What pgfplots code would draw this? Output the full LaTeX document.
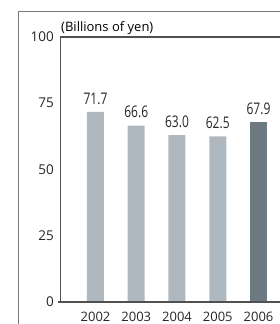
\documentclass[border=0pt]{standalone}
\usepackage{fontspec}
\setmainfont{Open Sans}
\newfontfamily\valfont[FakeStretch=0.75]{Open Sans}
\usepackage{pgfplots}
\pgfplotsset{compat=1.18}
\definecolor{barlight}{HTML}{B0B8BF}
\definecolor{bardark}{HTML}{6E7A82}
\definecolor{axisgray}{HTML}{505050}
\definecolor{framegray}{HTML}{7A7A7A}
\begin{document}
\begin{tikzpicture}[x=1pt,y=1pt]
\clip (0,0) rectangle (280,324);
\draw[framegray, line width=0.9pt] (18,-2) -- (18,313) -- (285,313);
\node[anchor=base west, inner sep=0pt, font=\fontsize{13}{15}\selectfont] at (61,292) {(Billions of yen)};
\begin{axis}[
  at={(60pt,22pt)}, anchor=south west,
  width=222.95pt, height=265pt, scale only axis,
  xmin=-0.871, xmax=4.6, ymin=0, ymax=100,
  axis x line*=bottom,
  x axis line style={draw=none},
  axis y line*=left,
  y axis line style={-, axisgray, line width=0.9pt},
  ytick={0,25,50,75,100},
  major tick length=0pt,
  xtick={0,1,2,3,4},
  xticklabels={2002,2003,2004,2005,2006},
  /pgf/number format/assume math mode=true,
  ticklabel style={font=\fontsize{13.5}{15}\selectfont, text=black!85},
  yticklabel style={inner sep=0pt, xshift=-6pt},
  xticklabel style={inner sep=0pt, anchor=north, yshift=-9.5pt, font=\fontsize{13}{14}\selectfont},
  clip=false,
  nodes near coords,
  every node near coord/.append style={font=\fontsize{16}{18}\valfont, text=black!85, anchor=south, inner sep=0pt, yshift=7.5pt},
  nodes near coords={\pgfmathprintnumber[fixed,fixed zerofill,precision=1]{\pgfplotspointmeta}},
]
\addplot[ybar, bar width=17pt, bar shift=0pt, fill=barlight, draw=none]
  coordinates {(0,71.7) (1,66.6) (2,63.0) (3,62.5)};
\addplot[ybar, bar width=17pt, bar shift=0pt, fill=bardark, draw=none]
  coordinates {(4,67.9)};
\draw[axisgray, line width=1.4pt] (rel axis cs:0,1) -- (rel axis cs:1,1);
\draw[axisgray, line width=1.4pt] ([xshift=-2pt]rel axis cs:0,0) -- (rel axis cs:1,0);
\end{axis}
\end{tikzpicture}
\end{document}
